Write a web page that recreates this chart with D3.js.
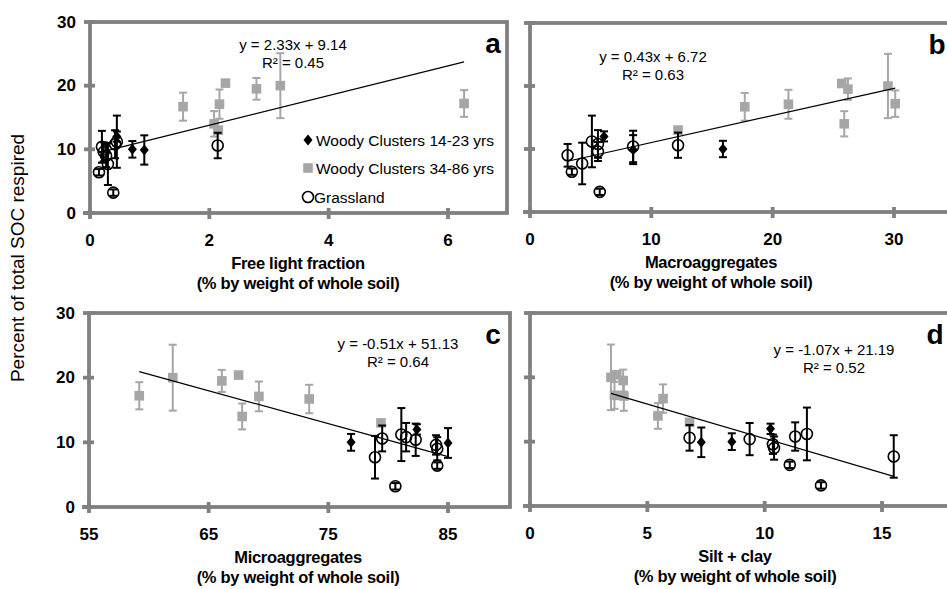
<!DOCTYPE html>
<html>
<head>
<meta charset="utf-8">
<script src="https://cdn.jsdelivr.net/npm/d3@7"></script>
<style>
	body { margin: 0; background: #fff; overflow: hidden; }
	svg { display: block; }
</style>
</head>
<body>
<script>
var width = 947, height = 589;
var font = "'Liberation Sans', Arial, sans-serif";
var frameGrey = "#808080", markGrey = "#a6a6a6";

// Woody Clusters 14-23 yrs
var youngResp = [12.0, 10.0, 9.9];
var youngErr = [0.8, 1.3, 2.3];
var youngFree = [0.45, 0.71, 0.91];
var youngMacro = [6.1, 15.9, 8.5];
var youngMicro = [82.4, 76.9, 85.0];
var youngSilt = [10.25, 8.6, 7.3];

// Woody Clusters 34-86 yrs
var oldResp = [20.0, 20.4, 19.5, 16.7, 17.1, 17.2, 14.0, 13.0];
var oldErr = [5.1, 0, 1.7, 2.2, 2.3, 2.1, 2.0, 0];
var oldFree = [3.19, 2.27, 2.79, 1.56, 2.17, 6.27, 2.08, 2.15];
var oldMacro = [29.5, 25.7, 26.2, 17.7, 21.3, 30.1, 25.9, 12.2];
var oldMicro = [62.0, 67.5, 66.1, 73.4, 69.2, 59.2, 67.8, 79.4];
var oldSilt = [3.45, 3.7, 3.97, 5.67, 4.0, 3.6, 5.45, 6.8];

// Grassland
var grassResp = [7.7, 3.2, 6.4, 11.2, 10.6, 10.4, 10.8, 9.0, 9.6];
var grassErr = [3.3, 0.5, 0.5, 4.1, 2.0, 2.5, 2.2, 1.8, 1.5];
var grassFree = [0.30, 0.39, 0.15, 0.45, 2.14, 0.20, 0.42, 0.27, 0.23];
var grassMacro = [4.3, 5.75, 3.45, 5.1, 12.2, 8.5, 5.6, 3.1, 5.6];
var grassMicro = [78.9, 80.6, 84.1, 81.1, 79.5, 82.3, 81.5, 84.1, 84.0];
var grassSilt = [15.5, 12.4, 11.07, 11.8, 6.8, 9.36, 11.3, 10.4, 10.35];

// fits shown on each panel
var fitSlope = [2.33, 0.43, -0.51, -1.07];
var fitIntercept = [9.14, 6.72, 51.13, 21.19];
var fitEquation = ["y = 2.33x + 9.14", "y = 0.43x + 6.72", "y = -0.51x + 51.13", "y = -1.07x + 21.19"];
var fitR2 = ["R² = 0.45", "R² = 0.63", "R² = 0.64", "R² = 0.52"];

var panelLetters = ["a", "b", "c", "d"];
var xTitles = ["Free light fraction", "Macroaggregates", "Microaggregates", "Silt + clay"];
var xSubTitle = "(% by weight of whole soil)";
var xTickValues = [[0, 2, 4, 6], [0, 10, 20, 30], [55, 65, 75, 85], [0, 5, 10, 15]];
var yTickValues = [0, 10, 20, 30];
var legendLabels = ["Woody Clusters 14-23 yrs", "Woody Clusters 34-86 yrs", "Grassland"];

// layout of the four panels
var layout = [
	{left: 90, right: 507, top: 22, bottom: 213, xDomain: [0, 6], xEnd: 448, titleX: 298, eqX: 293, eqY: 44, letterX: 493, yLabels: true},
	{left: 530, right: 965, top: 23, bottom: 212, xDomain: [0, 30], xEnd: 894, titleX: 711, eqX: 653, eqY: 56, letterX: 937, yLabels: false},
	{left: 89, right: 510, top: 313, bottom: 507, xDomain: [55, 85], xEnd: 448, titleX: 298, eqX: 398, eqY: 343, letterX: 493, yLabels: true},
	{left: 530, right: 965, top: 313, bottom: 506, xDomain: [0, 15], xEnd: 882, titleX: 735, eqX: 834, eqY: 349, letterX: 935, yLabels: false}
];

var svg = d3.select("body").append("svg")
	.attr("width", width)
	.attr("height", height);

function seriesFor(i){
	var xs = [
		[youngFree, oldFree, grassFree],
		[youngMacro, oldMacro, grassMacro],
		[youngMicro, oldMicro, grassMicro],
		[youngSilt, oldSilt, grassSilt]
	][i];
	return [
		{kind: "diamond", colour: "#000", pts: youngResp.map(function(r, j){ return {x: xs[0][j], y: r, e: youngErr[j]}; })},
		{kind: "square", colour: markGrey, pts: oldResp.map(function(r, j){ return {x: xs[1][j], y: r, e: oldErr[j]}; })},
		{kind: "circle", colour: "#000", pts: grassResp.map(function(r, j){ return {x: xs[2][j], y: r, e: grassErr[j]}; })}
	];
}

function drawMarker(g, kind, colour, cx, cy){
	if (kind == "diamond") {
		g.append("path")
			.attr("d", "M" + cx + "," + (cy - 5.5) + "L" + (cx + 4.5) + "," + cy + "L" + cx + "," + (cy + 5.5) + "L" + (cx - 4.5) + "," + cy + "Z")
			.attr("fill", colour);
	} else if (kind == "square") {
		g.append("rect")
			.attr("x", cx - 4.8).attr("y", cy - 4.8)
			.attr("width", 9.6).attr("height", 9.6)
			.attr("fill", colour);
	} else {
		g.append("circle")
			.attr("cx", cx).attr("cy", cy).attr("r", 5.5)
			.attr("fill", "none")
			.attr("stroke", colour)
			.attr("stroke-width", 1.6);
	}
}

function drawPanel(i){
	var p = layout[i];
	var x = d3.scaleLinear().domain(p.xDomain).range([p.left, p.xEnd]);
	var y = d3.scaleLinear().domain([0, 30]).range([p.bottom, p.top]);
	var g = svg.append("g");

	// frame
	g.append("rect")
		.attr("x", p.left).attr("y", p.top)
		.attr("width", p.right - p.left).attr("height", p.bottom - p.top)
		.attr("fill", "none")
		.attr("stroke", frameGrey)
		.attr("stroke-width", 3.8);
	g.append("line")
		.attr("x1", p.left - 7).attr("x2", p.left)
		.attr("y1", p.bottom).attr("y2", p.bottom)
		.attr("stroke", frameGrey).attr("stroke-width", 3.8);

	g.selectAll(".ytick")
		.data(yTickValues)
		.enter()
		.append("line")
		.attr("x1", p.left - 6).attr("x2", p.left + 5)
		.attr("y1", function(d){ return y(d); })
		.attr("y2", function(d){ return y(d); })
		.attr("stroke", frameGrey).attr("stroke-width", 3.8);

	g.selectAll(".xtick")
		.data(xTickValues[i])
		.enter()
		.append("line")
		.attr("x1", function(d){ return x(d); })
		.attr("x2", function(d){ return x(d); })
		.attr("y1", p.bottom - 5).attr("y2", p.bottom + 6)
		.attr("stroke", frameGrey).attr("stroke-width", 3.8);

	g.selectAll(".xlab")
		.data(xTickValues[i])
		.enter()
		.append("text")
		.attr("x", function(d){ return x(d); })
		.attr("y", p.bottom + 27)
		.attr("text-anchor", "middle")
		.attr("dominant-baseline", "central")
		.attr("font-family", font)
		.attr("font-weight", "bold")
		.attr("font-size", 17)
		.text(function(d){ return d; });

	if (p.yLabels) {
		g.selectAll(".ylab")
			.data(yTickValues)
			.enter()
			.append("text")
			.attr("x", p.left - 14)
			.attr("y", function(d){ return y(d); })
			.attr("text-anchor", "end")
			.attr("dominant-baseline", "central")
			.attr("font-family", font)
			.attr("font-weight", "bold")
			.attr("font-size", 17)
			.text(function(d){ return d; });
	}

	[xTitles[i], xSubTitle].forEach(function(t, k){
		g.append("text")
			.attr("x", p.titleX)
			.attr("y", p.bottom + 50 + k * 19.5)
			.attr("text-anchor", "middle")
			.attr("dominant-baseline", "central")
			.attr("font-family", font)
			.attr("font-weight", "bold")
			.attr("font-size", 16.5)
			.attr("letter-spacing", -0.3)
			.text(t);
	});

	// markers and error bars
	var series = seriesFor(i);
	var allX = [];
	series.forEach(function(s){
		s.pts.forEach(function(d){
			allX.push(d.x);
			if (d.e > 0) {
				var eg = g.append("g")
					.attr("stroke", s.colour)
					.attr("stroke-width", 2);
				eg.append("line")
					.attr("x1", x(d.x)).attr("x2", x(d.x))
					.attr("y1", y(d.y - d.e)).attr("y2", y(d.y + d.e));
				[d.y - d.e, d.y + d.e].forEach(function(v){
					eg.append("line")
						.attr("x1", x(d.x) - 4).attr("x2", x(d.x) + 4)
						.attr("y1", y(v)).attr("y2", y(v));
				});
			}
			drawMarker(g, s.kind, s.colour, x(d.x), y(d.y));
		});
	});

	// trend line
	var ext = d3.extent(allX);
	var line = d3.line()
		.x(function(d){ return x(d); })
		.y(function(d){ return y(fitSlope[i] * d + fitIntercept[i]); });
	g.append("path")
		.datum(ext)
		.attr("d", line)
		.attr("fill", "none")
		.attr("stroke", "#000")
		.attr("stroke-width", 1.2);

	[fitEquation[i], fitR2[i]].forEach(function(t, k){
		g.append("text")
			.attr("x", p.eqX)
			.attr("y", p.eqY + k * 18)
			.attr("text-anchor", "middle")
			.attr("dominant-baseline", "central")
			.attr("font-family", font)
			.attr("font-size", 15)
			.text(t);
	});

	g.append("text")
		.attr("x", p.letterX)
		.attr("y", p.top + 21)
		.attr("text-anchor", "middle")
		.attr("dominant-baseline", "central")
		.attr("font-family", font)
		.attr("font-weight", "bold")
		.attr("font-size", 28)
		.text(panelLetters[i]);
}

function writeLegend(){
	var kinds = ["diamond", "square", "circle"];
	var colours = ["#000", markGrey, "#000"];
	var ys = [140, 168, 197];
	kinds.forEach(function(k, j){
		drawMarker(svg, k, colours[j], 308, ys[j]);
		svg.append("text")
			.attr("x", j == 2 ? 314 : 316)
			.attr("y", ys[j])
			.attr("dominant-baseline", "central")
			.attr("font-family", font)
			.attr("font-size", 15.5)
			.text(legendLabels[j]);
	});
}

for (var i = 0; i < 4; i++) drawPanel(i);
writeLegend();

svg.append("text")
	.attr("transform", "translate(17,258) rotate(-90)")
	.attr("text-anchor", "middle")
	.attr("dominant-baseline", "central")
	.attr("font-family", font)
	.attr("font-size", 19)
	.text("Percent of total SOC respired");
</script>
</body>
</html>
